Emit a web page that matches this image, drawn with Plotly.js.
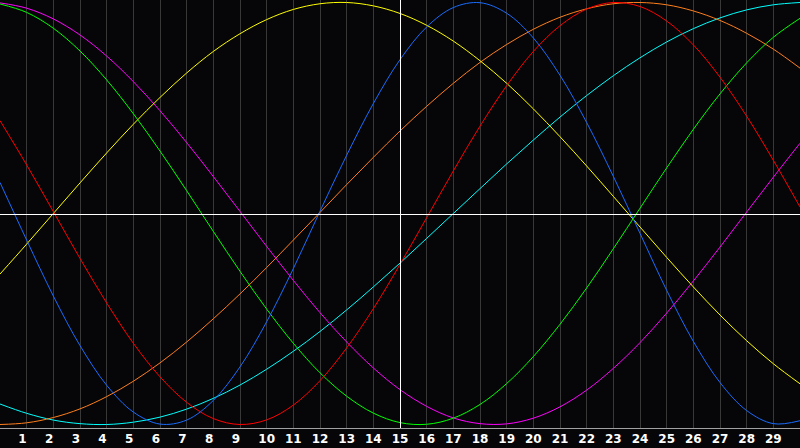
<!DOCTYPE html>
<html>
<head>
<meta charset="utf-8">
<script src="https://cdn.plot.ly/plotly-3.0.1.min.js"></script>
<style>
html,body{margin:0;padding:0;background:#060608;}
#chart{width:800px;height:448px;}
</style>
</head>
<body>
<div id="chart"></div>
<script>
const days = [0,1,2,3,4,5,6,7,8,9,10,11,12,13,14,15,16,17,18,19,20,21,22,23,24,25,26,27,28,29,30];
const tickDays = [1,2,3,4,5,6,7,8,9,10,11,12,13,14,15,16,17,18,19,20,21,22,23,24,25,26,27,28,29];
const tickLabels = ["1","2","3","4","5","6","7","8","9","10","11","12","13","14","15","16","17","18","19","20","21","22","23","24","25","26","27","28","29"];
const today = 15;

const blue = [0.147,-0.126,-0.391,-0.626,-0.814,-0.941,-0.998,-0.979,-0.886,-0.727,-0.513,-0.261,0.011,0.276,0.521,0.729,0.884,0.976,0.999,0.949,0.832,0.655,0.431,0.176,-0.094,-0.364,-0.606,-0.801,-0.934,-0.996,-0.982];
const red = [0.440,0.230,0.009,-0.213,-0.424,-0.615,-0.774,-0.895,-0.972,-1.000,-0.978,-0.908,-0.792,-0.637,-0.451,-0.241,-0.020,0.202,0.414,0.606,0.768,0.890,0.969,1.000,0.981,0.912,0.799,0.646,0.461,0.252,0.031];
const green = [0.993,0.953,0.878,0.770,0.633,0.473,0.296,0.108,-0.085,-0.274,-0.453,-0.615,-0.755,-0.866,-0.946,-0.991,-0.999,-0.970,-0.905,-0.806,-0.678,-0.525,-0.353,-0.167,0.025,0.216,0.399,0.567,0.714,0.835,0.925];
const yellow = [-0.287,-0.145,0.000,0.145,0.287,0.423,0.550,0.666,0.768,0.852,0.919,0.967,0.994,1.000,0.984,0.948,0.892,0.817,0.724,0.617,0.496,0.364,0.225,0.081,-0.064,-0.208,-0.348,-0.481,-0.603,-0.712,-0.807];
const magenta = [0.998,0.973,0.922,0.846,0.746,0.625,0.487,0.336,0.175,0.010,-0.156,-0.317,-0.470,-0.609,-0.732,-0.835,-0.914,-0.969,-0.996,-0.997,-0.970,-0.916,-0.837,-0.734,-0.612,-0.472,-0.320,-0.159,0.007,0.172,0.333];
const orange = [-1.000,-0.992,-0.967,-0.926,-0.868,-0.795,-0.708,-0.609,-0.499,-0.381,-0.256,-0.126,0.005,0.137,0.266,0.391,0.508,0.617,0.716,0.801,0.873,0.930,0.970,0.994,1.000,0.989,0.960,0.915,0.854,0.779,0.689];
const cyan = [-0.903,-0.947,-0.979,-0.996,-1.000,-0.989,-0.965,-0.927,-0.876,-0.813,-0.738,-0.653,-0.559,-0.457,-0.348,-0.235,-0.118,0.000,0.118,0.235,0.348,0.457,0.559,0.653,0.738,0.813,0.876,0.927,0.965,0.989,1.000];

const seriesList = [
  {name:"cyan", y:cyan, color:"#00ffff"},
  {name:"orange", y:orange, color:"#ff7f1e"},
  {name:"magenta", y:magenta, color:"#ff00ff"},
  {name:"yellow", y:yellow, color:"#ffff00"},
  {name:"green", y:green, color:"#00ff00"},
  {name:"red", y:red, color:"#ff0000"},
  {name:"blue", y:blue, color:"#1a6cff"}
];

const traces = seriesList.map(s => ({
  x: days, y: s.y, name: s.name, type: "scatter", mode: "lines",
  line: {color: s.color, width: 1, shape: "spline", smoothing: 1},
  hoverinfo: "skip"
}));

// single-digit labels are left-aligned like the two-digit ones in the original
const shownLabels = tickLabels.map(t => t.length === 1 ? t + "\u2007" : t);

const W = 800, PLOT_H = 428, X_SPAN = 30;
const todayPaper = (today * W / X_SPAN + 0.5) / W;
const layout = {
  width: W, height: 448,
  margin: {l: 0, r: 0, t: 0, b: 20, pad: 0},
  paper_bgcolor: "#060608",
  plot_bgcolor: "#060608",
  showlegend: false,
  xaxis: {
    range: [0, X_SPAN], fixedrange: true,
    tickvals: tickDays, ticktext: shownLabels,
    showgrid: true, gridcolor: "#383838", gridwidth: 1,
    zeroline: false, ticks: "",
    showline: true, linecolor: "#a0a0a0", linewidth: 1, mirror: true,
    tickfont: {family: "DejaVu Sans", size: 12, color: "#ffffff", weight: "bold"}
  },
  yaxis: {
    range: [-1.0166, 1.0118], fixedrange: true,
    showgrid: false, zeroline: false, showticklabels: false, ticks: "",
    showline: true, linecolor: "#a0a0a0", linewidth: 1, mirror: true
  },
  shapes: [
    {type: "line", xref: "paper", x0: 0, x1: 1, yref: "paper", y0: 1 - 214.5 / PLOT_H, y1: 1 - 214.5 / PLOT_H, layer: "above", line: {color: "#ffffff", width: 1}},
    {type: "line", xref: "paper", x0: todayPaper, x1: todayPaper, yref: "paper", y0: 0, y1: 1, layer: "above", line: {color: "#ffffff", width: 1}}
  ]
};

Plotly.newPlot("chart", traces, layout, {displayModeBar: false, staticPlot: true});
</script>
</body>
</html>
